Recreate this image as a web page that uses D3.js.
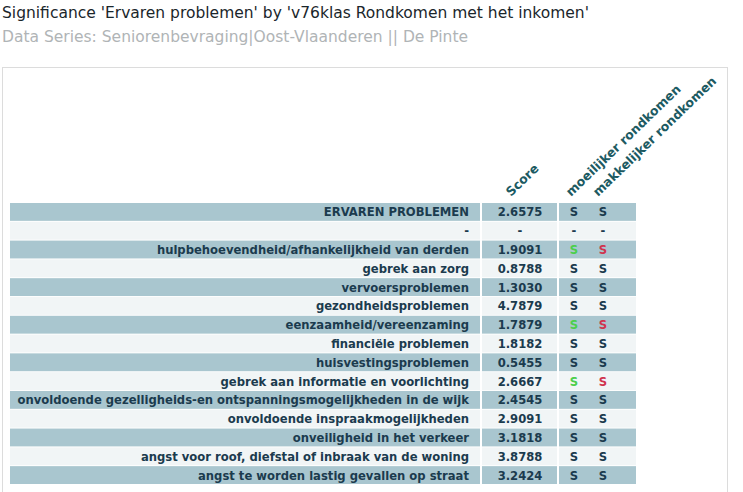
<!DOCTYPE html>
<html>
<head>
<meta charset="utf-8">
<script src="https://cdn.jsdelivr.net/npm/d3@7"></script>
<style>
  body { margin: 0; background: #fff; }
  svg { display: block; font-family: "DejaVu Sans", Verdana, sans-serif; }
</style>
</head>
<body>
<div id="chart"></div>
<script>
// table data
const labels = [
    "ERVAREN PROBLEMEN",
    "-",
    "hulpbehoevendheid/afhankelijkheid van derden",
    "gebrek aan zorg",
    "vervoersproblemen",
    "gezondheidsproblemen",
    "eenzaamheid/vereenzaming",
    "financiële problemen",
    "huisvestingsproblemen",
    "gebrek aan informatie en voorlichting",
    "onvoldoende gezelligheids-en ontspanningsmogelijkheden in de wijk",
    "onvoldoende inspraakmogelijkheden",
    "onveiligheid in het verkeer",
    "angst voor roof, diefstal of inbraak van de woning",
    "angst te worden lastig gevallen op straat"
];
const scores = ["2.6575", "-", "1.9091", "0.8788", "1.3030", "4.7879", "1.7879", "1.8182",
    "0.5455", "2.6667", "2.4545", "2.9091", "3.1818", "3.8788", "3.2424"];
// significance per group: "n" = neutral, "up" = green, "down" = red, "-" = none
const sigMoeilijker = ["n", "-", "up", "n", "n", "n", "up", "n", "n", "up", "n", "n", "n", "n", "n"];
const sigMakkelijker = ["n", "-", "down", "n", "n", "n", "down", "n", "n", "down", "n", "n", "n", "n", "n"];
const columns = ["Score", "moeilijker rondkomen", "makkelijker rondkomen"];

const width = 743, height = 492;

const svg = d3.select("#chart").append("svg")
    .attr("width", width)
    .attr("height", height);

// title
svg.append("text")
    .attr("x", 2).attr("y", 18)
    .attr("font-size", 15.5)
    .attr("fill", "#1a262b")
    .text("Significance 'Ervaren problemen' by 'v76klas Rondkomen met het inkomen'");
svg.append("text")
    .attr("x", 2).attr("y", 42)
    .attr("font-size", 15.5)
    .attr("fill", "#b0b4b6")
    .text("Data Series: Seniorenbevraging|Oost-Vlaanderen || De Pinte");

// panel
svg.append("rect")
    .attr("x", 2.5).attr("y", 67.5)
    .attr("width", 725).attr("height", 440)
    .attr("fill", "#fff")
    .attr("stroke", "#dcdcdc");

const y = d3.scaleBand()
    .domain(d3.range(labels.length))
    .range([203, 484])
    .paddingInner(0.05);

// column cells: label, score, significance
const cells = [
    {x0: 10, x1: 480},
    {x0: 482, x1: 557},
    {x0: 559, x1: 636}
];
const sigX = d3.scalePoint()
    .domain(["moeilijker", "makkelijker"])
    .range([574, 603]);

const rows = svg.selectAll("g.row")
    .data(labels)
    .join("g")
    .attr("class", "row")
    .attr("transform", (d, i) => "translate(0," + y(i) + ")");

cells.forEach(function (c) {
    rows.append("rect")
        .attr("x", c.x0)
        .attr("width", c.x1 - c.x0)
        .attr("height", y.bandwidth())
        .attr("fill", (d, i) => i % 2 === 0 ? "#a9c6cf" : "#f1f5f6");
});

const textY = y.bandwidth() / 2 + 4.5;
const textColor = "#1b3b4e";
const fs = 11.6;

rows.append("text")
    .attr("x", 469)
    .attr("y", textY)
    .attr("text-anchor", "end")
    .attr("font-size", fs)
    .attr("font-weight", "bold")
    .attr("fill", textColor)
    .text(d => d);

rows.append("text")
    .attr("x", 520)
    .attr("y", textY)
    .attr("text-anchor", "middle")
    .attr("font-size", fs)
    .attr("font-weight", "bold")
    .attr("fill", textColor)
    .text((d, i) => scores[i]);

const sigColor = {n: textColor, up: "#4ccf4c", down: "#d0344e", "-": textColor};

rows.append("text")
    .attr("x", sigX("moeilijker"))
    .attr("y", textY)
    .attr("text-anchor", "middle")
    .attr("font-size", fs)
    .attr("font-weight", "bold")
    .attr("fill", (d, i) => sigColor[sigMoeilijker[i]])
    .text((d, i) => sigMoeilijker[i] === "-" ? "-" : "S");

rows.append("text")
    .attr("x", sigX("makkelijker"))
    .attr("y", textY)
    .attr("text-anchor", "middle")
    .attr("font-size", fs)
    .attr("font-weight", "bold")
    .attr("fill", (d, i) => sigColor[sigMakkelijker[i]])
    .text((d, i) => sigMakkelijker[i] === "-" ? "-" : "S");

// rotated column headers
const headX = [511, 571, 598];
svg.selectAll("text.head")
    .data(columns)
    .join("text")
    .attr("class", "head")
    .attr("transform", (d, i) => "translate(" + headX[i] + ",197) rotate(-44)")
    .attr("font-size", 12.5)
    .attr("font-weight", "bold")
    .attr("fill", "#1c5a62")
    .text(d => d);
</script>
</body>
</html>
